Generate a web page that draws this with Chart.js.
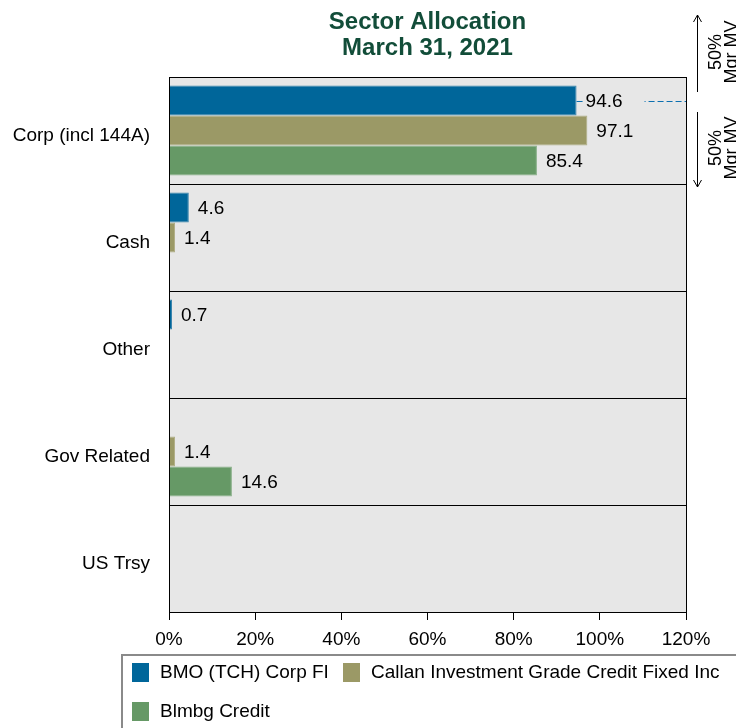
<!DOCTYPE html>
<html>
<head>
<meta charset="utf-8">
<script src="https://cdn.jsdelivr.net/npm/chart.js@4/dist/chart.umd.min.js"></script>
<style>
  html, body { margin: 0; padding: 0; background: #fff; }
  #wrap { width: 736px; height: 728px; position: relative; }
</style>
</head>
<body>
<div id="wrap"><canvas id="chart"></canvas></div>
<script>
// Data
const sectors = ['Corp (incl 144A)', 'Cash', 'Other', 'Gov Related', 'US Trsy'];
const bmoCorp = [94.6, 4.6, 0.7, null, null];
const callanCredit = [97.1, 1.4, null, 1.4, 0.1];
const blmbgCredit = [85.4, null, null, 14.6, null];
const xTicks = [0, 20, 40, 60, 80, 100, 120];
const titleLines = ['Sector Allocation', 'March 31, 2021'];

const FONT = '"Liberation Sans", Arial, sans-serif';
const PLOT_BG = '#e7e7e7';

// plot background + frame
const plotBg = {
    id: 'plotBg',
    beforeDraw(chart) {
        const { ctx, chartArea: a } = chart;
        ctx.save();
        ctx.fillStyle = PLOT_BG;
        ctx.fillRect(a.left, a.top, a.right - a.left, a.bottom - a.top);
        ctx.restore();
    },
    afterDatasetsDraw(chart) {
        const { ctx, chartArea: a } = chart;
        ctx.save();
        ctx.strokeStyle = '#000';
        ctx.lineWidth = 1;
        ctx.strokeRect(a.left + 0.5, a.top + 0.5, a.right - a.left, a.bottom - a.top);
        ctx.restore();
    }
};

// value labels + dashed marker line for first bar
const valueLabels = {
    id: 'valueLabels',
    afterDatasetsDraw(chart) {
        const { ctx, chartArea: a } = chart;
        ctx.save();
        // dashed line at manager's corp weight
        const first = chart.getDatasetMeta(0).data[0];
        ctx.strokeStyle = '#0b6fb0';
        ctx.lineWidth = 1.2;
        ctx.setLineDash([6, 3]);
        ctx.beginPath();
        ctx.moveTo(first.x, Math.round(first.y) + 0.5);
        ctx.lineTo(a.right, Math.round(first.y) + 0.5);
        ctx.stroke();
        ctx.setLineDash([]);

        ctx.font = '19px ' + FONT;
        ctx.textBaseline = 'middle';
        ctx.textAlign = 'left';
        chart.data.datasets.forEach((ds, i) => {
            chart.getDatasetMeta(i).data.forEach((bar, j) => {
                const v = ds.data[j];
                if (v == null || v < 0.5) return;
                const txt = v.toFixed(1);
                const x = bar.x + 9;
                const w = ctx.measureText(txt).width;
                ctx.fillStyle = PLOT_BG;
                ctx.fillRect(x - 2, bar.y - 10, w + 24, 20);
                ctx.fillStyle = '#000';
                ctx.fillText(txt, x, bar.y + 1);
            });
        });
        ctx.restore();
    }
};

// title, side annotation, legend
const decorations = {
    id: 'decorations',
    afterDraw(chart) {
        const { ctx, chartArea: a } = chart;
        ctx.save();
        const cx = (a.left + a.right) / 2;
        ctx.fillStyle = '#124d39';
        ctx.font = 'bold 24px ' + FONT;
        ctx.textAlign = 'center';
        ctx.textBaseline = 'middle';
        ctx.fillText(titleLines[0], cx, 22);
        ctx.fillText(titleLines[1], cx, 48);

        // arrows on the right
        ctx.strokeStyle = '#000';
        ctx.lineWidth = 1;
        const ax = 697.5;
        const arrow = (y1, y2, headUp) => {
            ctx.beginPath();
            ctx.moveTo(ax, y1);
            ctx.lineTo(ax, y2);
            const hy = headUp ? y1 : y2;
            const d = headUp ? 7 : -7;
            ctx.moveTo(ax - 4, hy + d);
            ctx.lineTo(ax, hy);
            ctx.lineTo(ax + 4, hy + d);
            ctx.stroke();
        };
        arrow(15, 92, true);
        arrow(112, 187, false);

        ctx.fillStyle = '#000';
        ctx.font = '18px ' + FONT;
        const vtext = (cy) => {
            ctx.save();
            ctx.translate(716, cy);
            ctx.rotate(-Math.PI / 2);
            ctx.textAlign = 'center';
            ctx.textBaseline = 'middle';
            ctx.fillText('50%', 0, 0);
            ctx.fillText('Mgr MV', 0, 16);
            ctx.restore();
        };
        vtext(52);
        vtext(148);

        // legend
        ctx.strokeStyle = '#8a8a8a';
        ctx.lineWidth = 2;
        ctx.strokeRect(122, 655, 640, 100);
        ctx.textAlign = 'left';
        ctx.textBaseline = 'middle';
        ctx.font = '19px ' + FONT;
        const items = [
            { i: 0, x: 132, y: 672 },
            { i: 1, x: 343, y: 672 },
            { i: 2, x: 132, y: 711 }
        ];
        items.forEach(it => {
            const ds = chart.data.datasets[it.i];
            ctx.fillStyle = ds.backgroundColor;
            ctx.fillRect(it.x, it.y - 9, 17, 19);
            ctx.fillStyle = '#000';
            ctx.fillText(ds.label, it.x + 28, it.y + 1);
        });
        ctx.restore();
    }
};

new Chart(document.getElementById('chart'), {
    type: 'bar',
    data: {
        labels: sectors,
        datasets: [{
            label: 'BMO (TCH) Corp FI',
            data: bmoCorp,
            backgroundColor: '#00669a',
            borderColor: '#3b86ad',
            borderWidth: 1
        }, {
            label: 'Callan Investment Grade Credit Fixed Inc',
            data: callanCredit,
            backgroundColor: '#9b9966',
            borderColor: '#b0ae86',
            borderWidth: 1
        }, {
            label: 'Blmbg Credit',
            data: blmbgCredit,
            backgroundColor: '#669966',
            borderColor: '#86ae86',
            borderWidth: 1
        }]
    },
    options: {
        indexAxis: 'y',
        responsive: true,
        maintainAspectRatio: false,
        animation: false,
        categoryPercentage: 0.84,
        barPercentage: 1,
        layout: { padding: { top: 77, right: 50, left: 0, bottom: 0 } },
        plugins: {
            legend: { display: false },
            title: { display: false },
            tooltip: { enabled: false }
        },
        scales: {
            x: {
                min: 0,
                max: 120,
                afterBuildTicks: (scale) => { scale.ticks = xTicks.map(v => ({ value: v })); },
                afterFit: (scale) => { scale.height = 116; },
                border: { display: true, color: '#000' },
                grid: { drawOnChartArea: false, drawTicks: true, tickLength: 8, color: '#000' },
                ticks: {
                    color: '#000',
                    padding: 8,
                    maxRotation: 0,
                    font: { size: 19, family: FONT },
                    callback: (val) => val + '%'
                }
            },
            y: {
                afterFit: (scale) => { scale.width = 169; },
                border: { display: true, color: '#000' },
                grid: { offset: true, drawTicks: false, color: '#000' },
                ticks: {
                    color: '#000',
                    padding: 19,
                    labelOffset: 5,
                    font: { size: 19, family: FONT }
                }
            }
        }
    },
    plugins: [plotBg, valueLabels, decorations]
});
</script>
</body>
</html>
